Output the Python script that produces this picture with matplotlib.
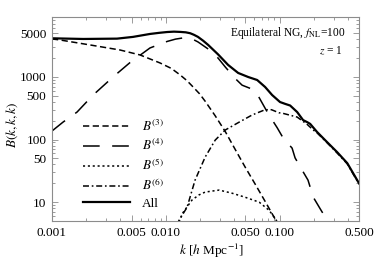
import matplotlib
matplotlib.use('Agg')
import matplotlib.pyplot as plt
from matplotlib.ticker import FixedLocator, NullFormatter, LogLocator

k_b3 = [0.001, 0.00117, 0.00216, 0.00396, 0.00594, 0.00891, 0.0112, 0.0134, 0.0154,
        0.0174, 0.0198, 0.0222, 0.0272, 0.0333, 0.0407, 0.0498, 0.061, 0.0747,
        0.0914, 0.099]
b3 = [4050, 3910, 3250, 2700, 2250, 1675, 1370, 1076, 870,
      692, 540, 410, 240, 135, 70, 36.5, 19.5, 10.3,
      5.4, 4.4]

k_b4 = [0.001, 0.00125, 0.00166, 0.0023, 0.00344, 0.00485, 0.00727, 0.0103,
        0.0122, 0.0142, 0.0164, 0.0192, 0.0236, 0.0288, 0.0333, 0.0407, 0.0469,
        0.0574, 0.0649, 0.0794, 0.0953, 0.1076, 0.129, 0.137, 0.158, 0.178,
        0.198, 0.23, 0.262, 0.275]
b4 = [137, 190, 275, 515, 1000, 1700, 2910, 3700,
      4030, 4210, 4210, 3630, 2800, 2010, 1450, 950, 740,
      640, 500, 260, 155, 106, 73, 51, 32.5, 22.5,
      12, 7.6, 5.15, 4.3]

k_b5 = [0.0131, 0.014, 0.017, 0.0195, 0.0222, 0.0295, 0.0383, 0.0498, 0.0663,
        0.0811, 0.0914, 0.097]
b5 = [4.8, 6.6, 10.8, 13.0, 14.5, 15.6, 13.9, 12, 10,
      7.4, 5.5, 4.6]

k_b6 = [0.0125, 0.0131, 0.0154, 0.0181, 0.0222, 0.0272, 0.0333, 0.0442,
        0.0574, 0.0747, 0.085, 0.099, 0.1076, 0.1428, 0.175, 0.198, 0.214,
        0.262, 0.321, 0.394, 0.5]
b6 = [4.3, 5.15, 8.3, 22.5, 52.5, 98, 142, 190,
      247, 300, 300, 268, 262, 229, 175, 142, 128,
      89, 61, 41, 19.5]

k_all = [0.001, 0.00188, 0.00373, 0.00515, 0.00727, 0.0088, 0.0103, 0.0118, 0.0134,
         0.015, 0.0164, 0.0177, 0.0192, 0.0213, 0.0236, 0.0288, 0.0353, 0.0433,
         0.053, 0.0636, 0.0747, 0.0861, 0.101, 0.112, 0.124, 0.143, 0.161, 0.175,
         0.186, 0.214, 0.262, 0.321, 0.394, 0.5]
b_all = [4150, 4050, 4100, 4370, 4870, 5080, 5230, 5300, 5250,
         5170, 5000, 4720, 4370, 3800, 3250, 2300, 1560, 1160,
         1000, 895, 692, 515, 398, 372, 350, 275, 205, 190,
         178, 132, 91, 63, 42, 20]

x_ticks = [0.001, 0.005, 0.01, 0.05, 0.1, 0.5]
x_labels = ['0.001', '0.005', '0.010', '0.050', '0.100', '0.500']
y_ticks = [10, 50, 100, 500, 1000, 5000]
y_labels = ['10', '50', '100', '500', '1000', '5000']

## ::: Style ::: ##
plt.rcParams['font.family'] = ['Liberation Serif', 'DejaVu Serif']
plt.rcParams['mathtext.fontset'] = 'stix'
plt.rcParams['font.size'] = 9.5
plt.rcParams['lines.scale_dashes'] = False

frame_col = '#8c8c8c'

fig = plt.figure(figsize=(3.74, 2.65), dpi=100)
ax = fig.add_axes([0.139, 0.166, 0.821, 0.770])

ax.plot(k_b3, b3, color='k', lw=1.1, dashes=(4.5, 2.5), label=r'$B^{(3)}$')
ax.plot(k_b4, b4, color='k', lw=1.1, dashes=(12, 9), label=r'$B^{(4)}$')
ax.plot(k_b5, b5, color='k', lw=1.1, dashes=(1.5, 2.0), label=r'$B^{(5)}$')
ax.plot(k_b6, b6, color='k', lw=1.1, dashes=(4.3, 2.0, 1.2, 2.0), label=r'$B^{(6)}$')
ax.plot(k_all, b_all, color='k', lw=1.6, label='All')

ax.set_xscale('log')
ax.set_yscale('log')
ax.set_xlim(0.001, 0.5)
ax.set_ylim(5, 9100)

ax.xaxis.set_major_locator(FixedLocator(x_ticks))
ax.set_xticklabels(x_labels)
ax.xaxis.set_minor_locator(LogLocator(base=10, subs=(2, 3, 4, 6, 7, 8, 9)))
ax.xaxis.set_minor_formatter(NullFormatter())
ax.yaxis.set_major_locator(FixedLocator(y_ticks))
ax.set_yticklabels(y_labels)
ax.yaxis.set_minor_locator(LogLocator(base=10, subs=(2, 3, 4, 6, 7, 8, 9)))
ax.yaxis.set_minor_formatter(NullFormatter())

for s in ax.spines.values():
    s.set_color(frame_col)
    s.set_linewidth(0.8)
ax.tick_params(which='both', direction='in', top=True, right=True, color=frame_col, width=0.6)
ax.tick_params(which='major', length=4, pad=4)
ax.tick_params(which='minor', length=2)

ax.set_xlabel(r'$k$ [$h$ Mpc$^{-1}$]')
ax.xaxis.set_label_coords(0.52, -0.10)
ax.set_ylabel(r'$B(k,k,k)$')
ax.yaxis.set_label_coords(-0.105, 0.47)

ax.text(0.954, 0.922, r'Equilateral NG, $f_{\rm NL}$=100', transform=ax.transAxes,
        ha='right', va='center', fontsize=8.3)
ax.text(0.948, 0.833, r'$z$ = 1', transform=ax.transAxes, ha='right', va='center',
        fontsize=8.3)

ax.legend(loc='lower left', bbox_to_anchor=(0.1, 0.055), frameon=False,
          handlelength=3.6, handletextpad=0.9, labelspacing=0.32, borderpad=0,
          borderaxespad=0)

fig.savefig('out.png', dpi=100)
